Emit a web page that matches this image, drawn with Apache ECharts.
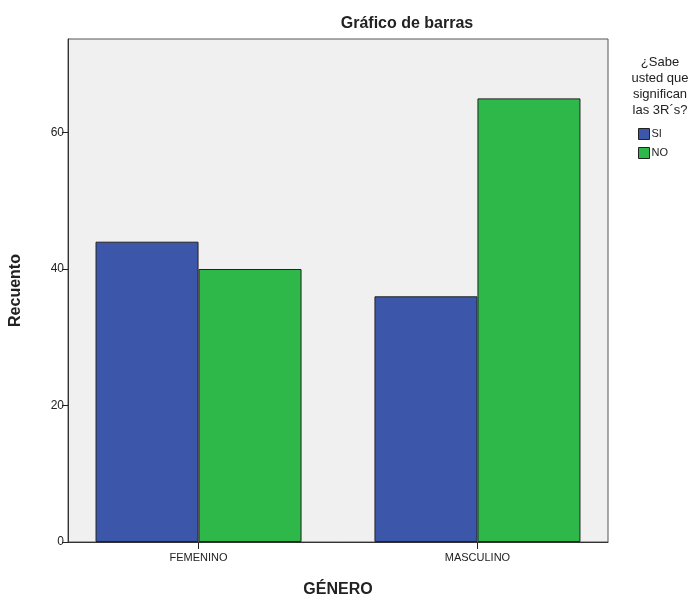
<!DOCTYPE html>
<html><head><meta charset="utf-8">
<script src="https://cdn.jsdelivr.net/npm/echarts@6/dist/echarts.min.js"></script>
<style>html,body{margin:0;padding:0;background:#fff;width:100%;height:100%;overflow:hidden}#c{width:100vw;height:100vh}</style>
</head><body><div id="c"></div>
<script>
const categories = ['FEMENINO', 'MASCULINO'];
const seriesNames = ['SI', 'NO'];
const SI = [44, 36];
const NO = [40, 65];
const yTicks = [0, 20, 40, 60];

const catPos = categories.map((c, i) => i);
const chart = echarts.init(document.getElementById('c'));
const font = 'Liberation Sans, Arial, sans-serif';
chart.setOption({
  animation: false,
  backgroundColor: '#ffffff',
  title: [
    { text: 'Gráfico de barras', left: 402, top: 11, textAlign: 'center',
      textStyle: { fontFamily: font, fontSize: 16, fontWeight: 'bold', color: '#222' } },
    { text: '¿Sabe\nusted que\nsignifican\nlas 3R´s?', left: 655, top: 49, textAlign: 'center',
      textStyle: { fontFamily: font, fontSize: 13, fontWeight: 'normal', color: '#222', lineHeight: 16, align: 'center' } }
  ],
  legend: {
    orient: 'vertical', left: 633, top: 123, itemWidth: 11, itemHeight: 11, itemGap: 7,
    icon: 'rect', data: seriesNames,
    textStyle: { fontFamily: font, fontSize: 11, color: '#222', padding: [0, 0, 0, -3] },
    itemStyle: { borderColor: '#222', borderWidth: 1 }
  },
  grid: { left: 67, right: 81, top: 39, bottom: 54, show: true, backgroundColor: '#f0f0f0',
    borderColor: '#555', borderWidth: 1, containLabel: false },
  xAxis: {
    type: 'value', min: -0.468, max: 1.468,
    name: 'GÉNERO', nameLocation: 'middle', nameGap: 40,
    nameTextStyle: { fontFamily: font, fontSize: 16, fontWeight: 'bold', color: '#222' },
    axisLine: { show: true, onZero: false, lineStyle: { color: '#333' } },
    axisTick: { show: true, customValues: catPos, length: 7, lineStyle: { color: '#222' } },
    axisLabel: { customValues: catPos, formatter: v => categories[Math.round(v)] || '',
      fontFamily: font, fontSize: 11, color: '#222', margin: 10 },
    splitLine: { show: false }
  },
  yAxis: {
    type: 'value', min: 0, max: 73.7, interval: 20,
    name: 'Recuento', nameLocation: 'middle', nameGap: 44, nameRotate: 90,
    nameTextStyle: { fontFamily: font, fontSize: 16, fontWeight: 'bold', color: '#222' },
    axisLine: { show: true, onZero: false, lineStyle: { color: '#333' } },
    axisTick: { show: true, customValues: yTicks, length: 6, lineStyle: { color: '#222' } },
    axisLabel: { customValues: yTicks, fontFamily: font, fontSize: 12, color: '#222', margin: 4 },
    splitLine: { show: false }
  },
  series: [
    { name: 'SI', type: 'bar', barWidth: 103, barGap: '0%',
      data: SI.map((v, i) => [catPos[i], v]),
      itemStyle: { color: '#3c57aa', borderColor: '#222', borderWidth: 1 } },
    { name: 'NO', type: 'bar', barWidth: 103, barGap: '0%',
      data: NO.map((v, i) => [catPos[i], v]),
      itemStyle: { color: '#2fb84a', borderColor: '#222', borderWidth: 1 } }
  ]
});
</script></body></html>
